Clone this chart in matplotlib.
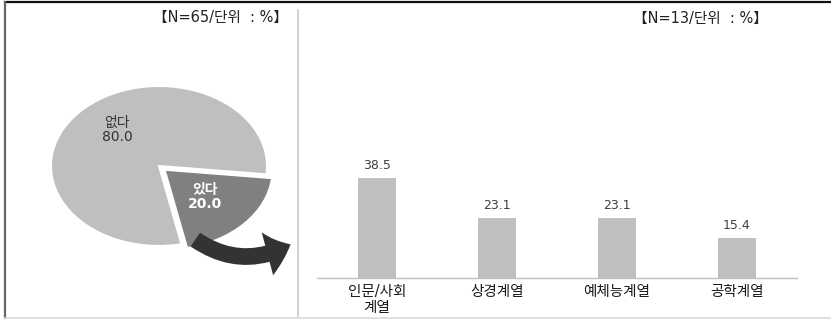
import matplotlib
matplotlib.use("Agg")
import matplotlib.pyplot as plt
from matplotlib.lines import Line2D
from matplotlib.patches import FancyArrowPatch

plt.rcParams['font.family'] = ['DejaVu Sans', 'Noto Sans CJK KR']

# Pie: experience (N=65)
pie_labels = ["있다", "없다"]
pie_values = [20.0, 80.0]
pie_colors = ["#808080", "#bfbfbf"]
pie_note = "【N=65/단위  : %】"

# Bars: field of study among "있다" respondents (N=13)
bar_categories = ["인문/사회\n계열", "상경계열", "예체능계열", "공학계열"]
bar_values = [38.5, 23.1, 23.1, 15.4]
bar_note = "【N=13/단위  : %】"

W, H = 831, 320
fig = plt.figure(figsize=(W / 100, H / 100), dpi=100)
fig.patch.set_facecolor("white")


def px(x, y):
    return x / W, 1 - y / H


# frame lines
fig.add_artist(Line2D([px(5, 0)[0], 1.0], [px(0, 2)[1]] * 2, color="#111111", lw=1.6))
fig.add_artist(Line2D([px(5, 0)[0]] * 2, [px(0, 2)[1], px(0, 318)[1]], color="#666666", lw=1.6))
fig.add_artist(Line2D([px(5, 0)[0], 1.0], [px(0, 318)[1]] * 2, color="#d9d9d9", lw=1.2))
fig.add_artist(Line2D([px(298, 0)[0]] * 2, [px(0, 10)[1], px(0, 316)[1]], color="#c8c8c8", lw=1.2))

# ---- pie (flattened to an ellipse) ----
cx, cy, rx, ry = 159, 166, 108, 80
l, b = px(cx - rx, cy + ry)
ax_pie = fig.add_axes([l, b, 2 * rx / W, 2 * ry / H])
wedges, _ = ax_pie.pie(pie_values, colors=pie_colors, startangle=-78,
                       counterclock=True, explode=[0.07, 0.0],
                       wedgeprops=dict(edgecolor="white", linewidth=1.5))
for w in wedges:
    w.set_clip_on(False)
ax_pie.set_aspect("auto")
ax_pie.set_xlim(-1, 1)
ax_pie.set_ylim(-1, 1)
ax_pie.axis("off")

ax_pie.text(-0.39, 0.45, f"{pie_labels[1]}\n{pie_values[1]:.1f}", ha="center", va="center",
            fontsize=10, color="#333333", linespacing=1.05)
ax_pie.text(0.43, -0.39, f"{pie_labels[0]}\n{pie_values[0]:.1f}", ha="center", va="center",
            fontsize=10, color="white", fontweight="bold", linespacing=1.05)

fig.text(*px(288, 17), pie_note, ha="right", va="center", fontsize=10.5, color="#222222")

# curved arrow from the pie slice to the bar chart
arrow = FancyArrowPatch(px(193, 238), px(293, 243), transform=fig.transFigure,
                        connectionstyle="arc3,rad=0.32",
                        arrowstyle="simple,head_length=18,head_width=32,tail_width=12",
                        color="#333333", lw=0)
fig.add_artist(arrow)

# ---- bar chart ----
x0, x1, ytop, ybase = 317, 797, 100, 278
l, b = px(x0, ybase)
ax_bar = fig.add_axes([l, b, (x1 - x0) / W, (ybase - ytop) / H])
pos = list(range(len(bar_values)))
bars = ax_bar.bar(pos, bar_values, width=0.32, color="#bfbfbf")
ax_bar.set_xlim(-0.5, len(bar_values) - 0.5)
ax_bar.set_ylim(0, 68.5)
for p, v in zip(pos, bar_values):
    ax_bar.annotate(f"{v:.1f}", (p, v), xytext=(0, 4), textcoords="offset points",
                    ha="center", va="bottom", fontsize=9, color="#404040")
for s in ["top", "right", "left"]:
    ax_bar.spines[s].set_visible(False)
ax_bar.spines["bottom"].set_color("#bfbfbf")
ax_bar.spines["bottom"].set_linewidth(1.0)
ax_bar.set_yticks([])
ax_bar.set_xticks(pos)
ax_bar.set_xticklabels(bar_categories, fontsize=10.5, color="#1a1a1a", linespacing=1.1)
ax_bar.tick_params(axis="x", length=0, pad=4)
ax_bar.patch.set_visible(False)

fig.text(*px(768, 18), bar_note, ha="right", va="center", fontsize=10.5, color="#222222")

fig.savefig("out.png", dpi=100)
